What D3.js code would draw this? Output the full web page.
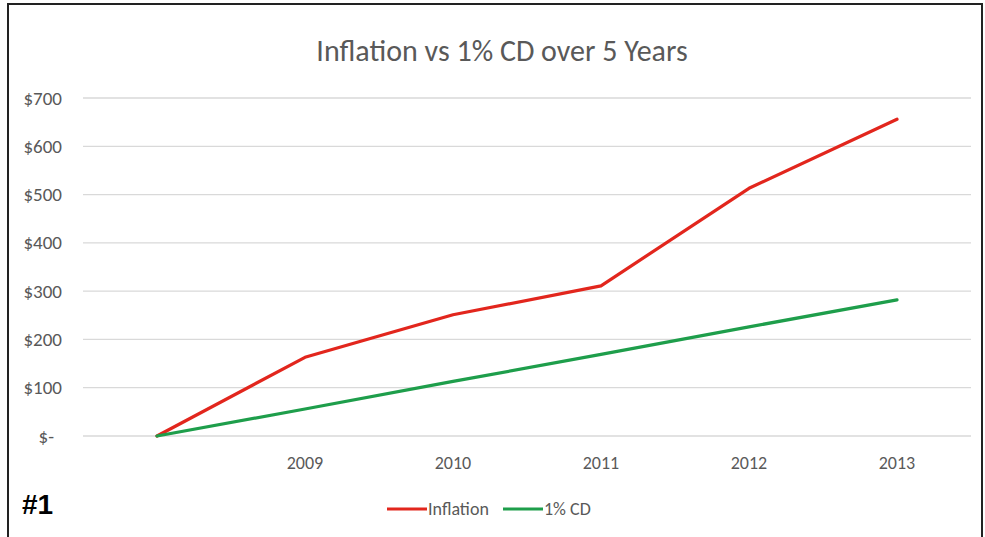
<!DOCTYPE html>
<html><head><meta charset="utf-8">
<script src="https://cdn.jsdelivr.net/npm/d3@7"></script>
<style>body{margin:0;background:#fff}svg{display:block}</style>
</head><body>
<script>
const categories = ["", "2009", "2010", "2011", "2012", "2013"];
const inflation = [0, 163, 251, 311, 513, 656];
const cd = [0, 56, 113, 169, 226, 282];
const yTicks = [0, 100, 200, 300, 400, 500, 600, 700];
const yTickLabels = ["$-", "$100", "$200", "$300", "$400", "$500", "$600", "$700"];
const seriesNames = ["Inflation", "1% CD"];
const colors = ["#e2261d", "#1e9e4b"];

const W = 985, H = 537;
const svg = d3.select("body").append("svg").attr("width", W).attr("height", H);
svg.append("rect").attr("x", 8).attr("y", 4).attr("width", 974).attr("height", 545)
  .attr("fill", "#fff").attr("stroke", "#222").attr("stroke-width", 2);

const font = "Carlito, 'Open Sans', 'Noto Sans', sans-serif";
svg.append("text").attr("x", 502).attr("y", 61).attr("text-anchor", "middle")
  .attr("font-family", font).attr("font-size", 30).attr("fill", "#595959")
  .text("Inflation vs 1% CD over 5 Years");

const x = d3.scaleBand().domain(categories.map((c,i)=>i)).range([83, 971]);
const y = d3.scaleLinear().domain([0, 700]).range([436, 98]);

const grid = svg.append("g");
grid.selectAll("line").data(yTicks).join("line")
  .attr("x1", 83).attr("x2", 971)
  .attr("y1", d => y(d)).attr("y2", d => y(d))
  .attr("stroke", "#d9d9d9").attr("stroke-width", 1.3);

svg.append("g").selectAll("text").data(yTicks).join("text")
  .attr("x", (d,i) => i === 0 ? 54 : 62).attr("y", d => y(d) + 6.5)
  .attr("text-anchor", "end").attr("font-family", font).attr("font-size", 19)
  .attr("fill", "#595959").text((d,i) => yTickLabels[i]);

svg.append("g").selectAll("text").data(categories).join("text")
  .attr("x", (d,i) => x(i) + x.bandwidth()/2).attr("y", 469)
  .attr("text-anchor", "middle").attr("font-family", font).attr("font-size", 18)
  .attr("fill", "#595959").text(d => d);

const line = d3.line().x((d,i) => x(i) + x.bandwidth()/2).y(d => y(d));
[inflation, cd].forEach((s, k) => {
  svg.append("path").datum(s).attr("d", line).attr("fill", "none")
    .attr("stroke", colors[k]).attr("stroke-width", 3.2)
    .attr("stroke-linejoin", "round").attr("stroke-linecap", "round");
});

const legendX = [387, 503];
seriesNames.forEach((n, k) => {
  svg.append("line").attr("x1", legendX[k]).attr("x2", legendX[k] + 40)
    .attr("y1", 509).attr("y2", 509).attr("stroke", colors[k]).attr("stroke-width", 3.2);
  svg.append("text").attr("x", legendX[k] + 41).attr("y", 515)
    .attr("font-family", font).attr("font-size", 18).attr("fill", "#595959").text(n);
});

svg.append("text").attr("x", 22).attr("y", 514).attr("font-family", "Liberation Sans, Arial, sans-serif")
  .attr("font-weight", "bold").attr("font-size", 28).attr("fill", "#000").text("#1");
</script>
</body></html>
